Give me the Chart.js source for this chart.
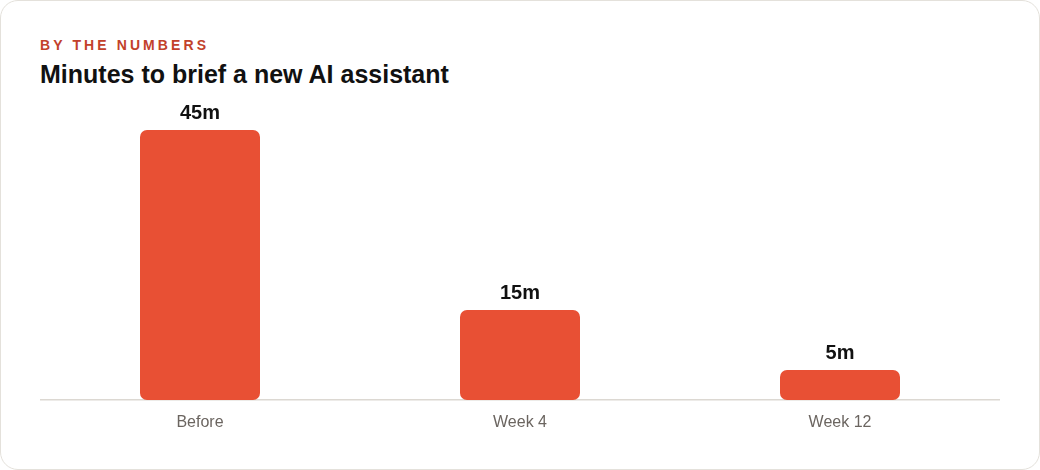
<!DOCTYPE html>
<html>
<head>
<meta charset="utf-8">
<script src="https://cdn.jsdelivr.net/npm/chart.js@4.4.0/dist/chart.umd.min.js"></script>
<style>
  html, body { margin: 0; padding: 0; background: #fff; }
  .card {
    position: relative;
    width: 1038px;
    height: 468px;
    border: 1px solid #e4e1db;
    border-radius: 18px;
    background: #fff;
    font-family: "Liberation Sans", Arial, sans-serif;
  }
  .eyebrow {
    position: absolute; left: 39px; top: 36px;
    font-size: 14px; font-weight: bold; letter-spacing: 3.1px;
    color: #c2412b;
  }
  .title {
    position: absolute; left: 39px; top: 59px;
    font-size: 25px; font-weight: bold; color: #111;
  }
  .chart-box { position: absolute; left: 39px; top: 99px; width: 960px; height: 340px; }
</style>
</head>
<body>
<div class="card">
  <div class="eyebrow">BY THE NUMBERS</div>
  <div class="title">Minutes to brief a new AI assistant</div>
  <div class="chart-box"><canvas id="chart"></canvas></div>
</div>
<script>
const categories = ['Before', 'Week 4', 'Week 12'];
const minutes = [45, 15, 5];
const valueLabels = ['45m', '15m', '5m'];

// draws the "45m" labels over each bar
const valueLabelPlugin = {
  id: 'valueLabels',
  afterDatasetsDraw(chart) {
    const ctx = chart.ctx;
    const meta = chart.getDatasetMeta(0);
    ctx.save();
    ctx.font = 'bold 20px "Liberation Sans", Arial, sans-serif';
    ctx.fillStyle = '#111';
    ctx.textAlign = 'center';
    ctx.textBaseline = 'alphabetic';
    meta.data.forEach((bar, i) => {
      ctx.fillText(valueLabels[i], bar.x, bar.y - 11);
    });
    ctx.restore();
  }
};

new Chart(document.getElementById('chart'), {
  type: 'bar',
  data: {
    labels: categories,
    datasets: [{
      data: minutes,
      backgroundColor: '#e85034',
      borderRadius: 7,
      borderSkipped: false,
      categoryPercentage: 1,
      barPercentage: 0.375
    }]
  },
  options: {
    responsive: true,
    maintainAspectRatio: false,
    animation: false,
    layout: { padding: 0 },
    plugins: {
      legend: { display: false },
      tooltip: { enabled: false }
    },
    scales: {
      y: {
        display: false,
        min: 0,
        max: 50
      },
      x: {
        grid: { display: false, drawTicks: false },
        border: { display: true, color: '#dcd8d2', width: 1.5 },
        ticks: {
          padding: 13,
          color: '#6b6560',
          font: { family: '"Liberation Sans", Arial, sans-serif', size: 16 }
        },
        afterFit(scale) { scale.height = 40; }
      }
    }
  },
  plugins: [valueLabelPlugin]
});
</script>
</body>
</html>
